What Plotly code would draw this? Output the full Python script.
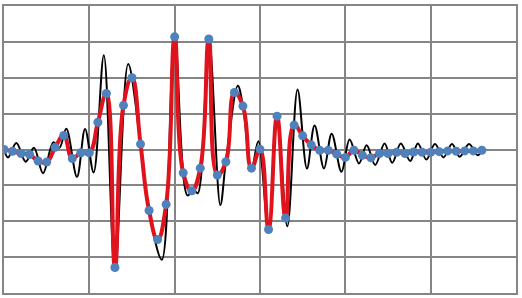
import plotly.graph_objects as go

# Sampled signal (blue markers, red smoothed line)
sample_x = list(range(57))
sample_y = [0.00, -0.05, -0.11, -0.14, -0.32, -0.35, 0.06, 0.39, -0.25, -0.09,
            -0.09, 0.76, 1.56, -3.29, 1.23, 2.00, 0.15, -1.70, -2.51, -1.53,
            3.14, -0.65, -1.15, -0.52, 3.08, -0.71, -0.34, 1.59, 1.21, -0.52,
            0.01, -2.23, 0.93, -1.91, 0.68, 0.38, 0.13, -0.02, -0.02, -0.13,
            -0.22, -0.02, -0.16, -0.23, -0.11, -0.11, -0.08, -0.11, -0.07, -0.08,
            -0.08, -0.06, -0.04, -0.05, -0.04, -0.04, -0.02]

# Original signal (black line), read at its turning points
black_x = [0, 0.47, 1.45, 2.54, 3.51, 4.57, 5.8, 6.5, 7.3, 8.55,
           9.5, 10.5, 11.7, 13.0, 14.55, 16.0, 17.0, 18.5, 20.0, 21.5,
           22.2, 22.7, 24.0, 25.35, 26.0, 27.4, 28.0, 29.0, 29.8, 31.0,
           32.0, 33.2, 34.4, 35.5, 36.4, 37.5, 38.4, 39.55, 40.5, 41.6,
           42.5, 43.5, 44.6, 45.5, 46.5, 47.6, 48.5, 49.5, 50.5, 51.5,
           52.5, 53.4, 54.5, 55.5, 56.0]
black_y = [0.0, -0.22, 0.18, -0.34, 0.05, -0.66, 0.20, 0.05, 0.58, -0.76,
           0.57, -0.64, 2.63, -3.32, 2.38, 0.15, -1.72, -3.07, 3.20, -1.28,
           -1.12, -1.22, 3.12, -1.55, -0.34, 1.78, 1.21, -0.55, 0.23, -2.25,
           0.97, -2.14, 1.67, -0.53, 0.67, -0.53, 0.44, -0.62, 0.28, -0.39,
           0.12, -0.43, 0.17, -0.37, 0.17, -0.32, 0.17, -0.28, 0.15, -0.22,
           0.15, -0.20, 0.15, -0.16, -0.02]

fig = go.Figure()
fig.add_trace(go.Scatter(x=black_x, y=black_y, mode="lines",
                         line=dict(color="black", width=2, shape="spline", smoothing=1.0),
                         hoverinfo="skip"))
fig.add_trace(go.Scatter(x=sample_x, y=sample_y, mode="lines",
                         line=dict(color="#e0121c", width=4, shape="spline", smoothing=1.3),
                         hoverinfo="skip"))
fig.add_trace(go.Scatter(x=sample_x, y=sample_y, mode="markers",
                         marker=dict(color="#4f81bd", size=9),
                         hoverinfo="skip"))

axis_common = dict(showgrid=True, gridcolor="#858585", gridwidth=1.5,
                   zeroline=False, showticklabels=False, ticks="",
                   showline=True, linecolor="#858585", linewidth=1.5, mirror=True)
fig.update_xaxes(range=[0, 60], dtick=10, tick0=0, **axis_common)
fig.update_yaxes(range=[-4, 4], dtick=1, tick0=0, **axis_common)
fig.update_layout(width=522, height=298, showlegend=False,
                  margin=dict(l=4, r=5, t=4, b=5),
                  plot_bgcolor="white", paper_bgcolor="white")
fig.write_html("out.html")
